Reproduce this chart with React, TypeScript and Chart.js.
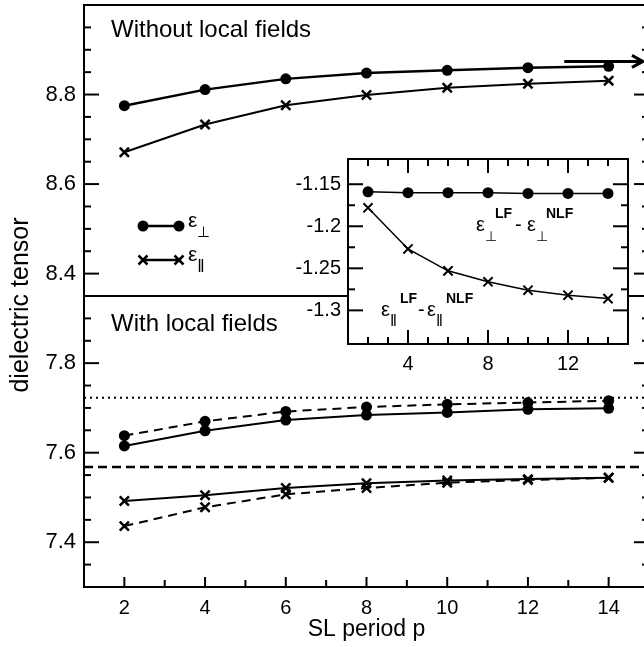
import React, { useEffect, useRef } from 'react';
import { Chart, registerables } from 'chart.js';
Chart.register(...registerables);

// ---------- data ----------
const periods = [2, 4, 6, 8, 10, 12, 14];
// without local fields (top panel)
const perpNLF = [8.775, 8.811, 8.835, 8.848, 8.854, 8.860, 8.863];
const parNLF = [8.671, 8.733, 8.776, 8.799, 8.815, 8.824, 8.831];
// with local fields (bottom panel), solid and dashed curves
const perpLF = [7.615, 7.649, 7.673, 7.684, 7.690, 7.697, 7.699];
const perpLFdashed = [7.638, 7.670, 7.692, 7.702, 7.708, 7.712, 7.716];
const parLF = [7.492, 7.505, 7.521, 7.532, 7.538, 7.541, 7.544];
const parLFdashed = [7.436, 7.478, 7.507, 7.521, 7.533, 7.539, 7.544];
// horizontal reference levels
const dottedLevel = 7.723;
const dashedLevel = 7.568;
// arrow in top panel
const arrowLevel = 8.874;
const arrowFrom = 12.9;
const arrowTo = 14.85;
// inset: LF - NLF
const perpDiff = [-1.159, -1.160, -1.160, -1.160, -1.161, -1.161, -1.161];
const parDiff = [-1.178, -1.227, -1.253, -1.266, -1.276, -1.282, -1.286];

// tick labels
const xTickLabels = [2, 4, 6, 8, 10, 12, 14];
const topTickLabels = [8.4, 8.6, 8.8];
const bottomTickLabels = [7.4, 7.6, 7.8];
const insetYTickLabels = [-1.15, -1.2, -1.25, -1.3];
const insetXTickLabels = [4, 8, 12];

const FONT = '"Liberation Sans", Arial, Helvetica, sans-serif';
const near = (a: number, b: number) => Math.abs(a - b) < 1e-6;
const inList = (v: number, list: number[]) => list.some((m) => near(m, v));
const fmt = (v: number) => String(Number(v.toFixed(3)));

// ε with subscript (⊥ or ‖) and optional bold superscript
function drawEps(ctx: CanvasRenderingContext2D, x: number, base: number, sub: string, sup: string | null, size: number) {
  ctx.font = `${size}px ${FONT}`;
  ctx.textAlign = 'left';
  ctx.textBaseline = 'alphabetic';
  ctx.fillText('ε', x, base);
  const w = ctx.measureText('ε').width;
  if (sub === '⊥') {
    ctx.font = `${Math.round(size * 0.72)}px ${FONT}`;
    ctx.fillText(sub, x + w, base + size * 0.48);
  } else {
    ctx.font = `${Math.round(size * 0.85)}px ${FONT}`;
    ctx.fillText(sub, x + w, base + size * 0.5);
  }
  if (sup) {
    ctx.font = `bold ${Math.round(size * 0.68)}px ${FONT}`;
    ctx.fillText(sup, x + 19, base - 13);
  }
}

function line(ctx: CanvasRenderingContext2D, x1: number, y1: number, x2: number, y2: number) {
  ctx.beginPath();
  ctx.moveTo(x1, y1);
  ctx.lineTo(x2, y2);
  ctx.stroke();
}

const mainPlugin = {
  id: 'mainDecor',
  afterDraw(chart: any) {
    const { ctx, chartArea: ca, scales } = chart;
    ctx.save();
    ctx.strokeStyle = '#000';
    ctx.fillStyle = '#000';
    ctx.lineWidth = 2;
    ctx.strokeRect(ca.left, ca.top, ca.right - ca.left, ca.bottom - ca.top);
    const div = scales.yTop.bottom;
    line(ctx, ca.left, div, ca.right, div);
    // y ticks (left and right)
    const ySpecs: [string, number[]][] = [['yTop', topTickLabels], ['yBot', bottomTickLabels]];
    for (const [id, majors] of ySpecs) {
      const s = scales[id];
      for (const t of s.ticks) {
        if (near(t.value, s.min) || near(t.value, s.max)) continue;
        const y = s.getPixelForValue(t.value);
        const len = inList(t.value, majors) ? 15 : 7;
        line(ctx, ca.left, y, ca.left + len, y);
        line(ctx, ca.right, y, ca.right - len, y);
      }
    }
    const sx = scales.x;
    for (const t of sx.ticks) {
      if (near(t.value, sx.min) || near(t.value, sx.max)) continue;
      const x = sx.getPixelForValue(t.value);
      const len = inList(t.value, xTickLabels) ? 10 : 7;
      line(ctx, x, ca.bottom, x, ca.bottom - len);
    }
    // arrow head
    const ax = sx.getPixelForValue(arrowTo);
    const ay = scales.yTop.getPixelForValue(arrowLevel);
    ctx.lineWidth = 3;
    ctx.beginPath();
    ctx.moveTo(ax - 11, ay - 6);
    ctx.lineTo(ax, ay);
    ctx.lineTo(ax - 11, ay + 6);
    ctx.stroke();
    // panel titles
    ctx.font = `24px ${FONT}`;
    ctx.textAlign = 'left';
    ctx.textBaseline = 'alphabetic';
    ctx.fillText('Without local fields', ca.left + 27, ca.top + 32);
    ctx.fillText('With local fields', ca.left + 27, div + 35);
    // y title
    ctx.save();
    ctx.translate(21, (ca.top + ca.bottom) / 2 + 9);
    ctx.rotate(-Math.PI / 2);
    ctx.textAlign = 'center';
    ctx.textBaseline = 'middle';
    ctx.font = `25px ${FONT}`;
    ctx.fillText('dielectric tensor', 0, 0);
    ctx.restore();
    // legend
    const lx1 = ca.left + 59, lx2 = ca.left + 95;
    const ly1 = ca.top + 221, ly2 = ca.top + 255;
    ctx.lineWidth = 2.5;
    line(ctx, lx1, ly1, lx2, ly1);
    for (const px of [lx1, lx2]) {
      ctx.beginPath();
      ctx.arc(px, ly1, 5.5, 0, Math.PI * 2);
      ctx.fill();
    }
    line(ctx, lx1, ly2, lx2, ly2);
    for (const px of [lx1, lx2]) {
      line(ctx, px - 4.5, ly2 - 4.5, px + 4.5, ly2 + 4.5);
      line(ctx, px - 4.5, ly2 + 4.5, px + 4.5, ly2 - 4.5);
    }
    drawEps(ctx, lx2 + 9, ly1 + 1, '⊥', null, 21);
    drawEps(ctx, lx2 + 9, ly2 + 1, '‖', null, 21);
    ctx.restore();
  },
};

const insetPlugin = {
  id: 'insetDecor',
  beforeDraw(chart: any) {
    const { ctx, chartArea: ca } = chart;
    ctx.save();
    ctx.fillStyle = '#fff';
    ctx.fillRect(ca.left, ca.top, ca.right - ca.left, ca.bottom - ca.top);
    ctx.restore();
  },
  afterDraw(chart: any) {
    const { ctx, chartArea: ca, scales } = chart;
    ctx.save();
    ctx.strokeStyle = '#000';
    ctx.fillStyle = '#000';
    ctx.lineWidth = 2;
    ctx.strokeRect(ca.left, ca.top, ca.right - ca.left, ca.bottom - ca.top);
    const sy = scales.y;
    for (const t of sy.ticks) {
      if (near(t.value, sy.min) || near(t.value, sy.max)) continue;
      const y = sy.getPixelForValue(t.value);
      const len = inList(t.value, insetYTickLabels) ? 15 : 7;
      line(ctx, ca.left, y, ca.left + len, y);
      line(ctx, ca.right, y, ca.right - len, y);
    }
    const sx = scales.x;
    for (const t of sx.ticks) {
      if (near(t.value, sx.min) || near(t.value, sx.max)) continue;
      const x = sx.getPixelForValue(t.value);
      const len = inList(t.value, insetXTickLabels) ? 14 : 7;
      line(ctx, x, ca.bottom, x, ca.bottom - len);
      line(ctx, x, ca.top, x, ca.top + len);
    }
    // annotations
    const ex1 = ca.left + 128, eb1 = ca.top + 72;
    drawEps(ctx, ex1, eb1, '⊥', 'LF', 20);
    ctx.font = `20px ${FONT}`;
    ctx.fillText('-', ex1 + 39, eb1);
    drawEps(ctx, ex1 + 51, eb1, '⊥', 'NLF', 20);
    const ex2 = ca.left + 33, eb2 = ca.top + 157;
    drawEps(ctx, ex2, eb2, '‖', 'LF', 20);
    ctx.font = `20px ${FONT}`;
    ctx.fillText('-', ex2 + 37, eb2);
    drawEps(ctx, ex2 + 46, eb2, '‖', 'NLF', 20);
    ctx.restore();
  },
};

const pts = (ys: number[]) => periods.map((x, i) => ({ x, y: ys[i] }));
const noPadY = (w: number) => (s: any) => { s.width = w; s.paddingTop = 0; s.paddingBottom = 0; };
const noPadX = (h: number) => (s: any) => { s.height = h; s.paddingLeft = 0; s.paddingRight = 0; };

export default function App() {
  const mainRef = useRef<HTMLCanvasElement>(null);
  const insetRef = useRef<HTMLCanvasElement>(null);

  useEffect(() => {
    const circle = (ys: number[], axis: string, width: number, dash: number[] = []) => ({
      data: pts(ys), yAxisID: axis, borderColor: '#000', backgroundColor: '#000', borderWidth: width,
      borderDash: dash, pointStyle: 'circle', pointRadius: 5.5, pointBorderWidth: 0,
      pointBackgroundColor: '#000', tension: 0,
    });
    const cross = (ys: number[], axis: string, width: number, dash: number[] = []) => ({
      data: pts(ys), yAxisID: axis, borderColor: '#000', backgroundColor: '#000', borderWidth: width,
      borderDash: dash, pointStyle: 'crossRot', pointRadius: 6.5, pointBorderWidth: 2.5,
      pointBorderColor: '#000', tension: 0,
    });
    const hline = (level: number, dash: number[], w: number) => ({
      data: [{ x: 1, y: level }, { x: 15, y: level }], yAxisID: 'yBot', borderColor: '#000',
      borderWidth: w, borderDash: dash, pointRadius: 0,
    });
    const yScale = (min: number, max: number, labels: number[]) => ({
      type: 'linear', position: 'left', stack: 'panels', stackWeight: 1, min, max,
      grid: { display: false, drawTicks: false }, border: { display: false },
      ticks: {
        stepSize: 0.05, autoSkip: false, padding: 8, color: '#000', font: { family: FONT, size: 22 },
        callback: (v: number) => (inList(v, labels) ? fmt(v) : ''),
      },
      afterFit: noPadY(84),
    });

    const main = new Chart(mainRef.current!, {
      type: 'line',
      data: {
        datasets: [
          hline(dottedLevel, [2, 4], 2),
          hline(dashedLevel, [9, 5], 2.5),
          circle(perpNLF, 'yTop', 2.5),
          cross(parNLF, 'yTop', 2),
          circle(perpLF, 'yBot', 2),
          circle(perpLFdashed, 'yBot', 2, [9, 6]),
          cross(parLF, 'yBot', 2),
          cross(parLFdashed, 'yBot', 2, [9, 6]),
          {
            data: [{ x: arrowFrom, y: arrowLevel }, { x: arrowTo, y: arrowLevel }], yAxisID: 'yTop',
            borderColor: '#000', borderWidth: 3, pointRadius: 0,
          },
        ] as any,
      },
      options: {
        animation: false, responsive: false, devicePixelRatio: 1,
        layout: { autoPadding: false, padding: { top: 5, right: 11, left: 0, bottom: 0 } },
        plugins: { legend: { display: false }, tooltip: { enabled: false } },
        scales: {
          x: {
            type: 'linear', min: 1, max: 15,
            grid: { display: false, drawTicks: false }, border: { display: false },
            ticks: {
              stepSize: 1, autoSkip: false, maxRotation: 0, padding: 9, color: '#000',
              font: { family: FONT, size: 20 },
              callback: (v: number) => (inList(v, xTickLabels) ? fmt(v) : ''),
            },
            title: { display: true, text: 'SL period p', color: '#000', font: { family: FONT, size: 23 }, padding: { top: 0, bottom: 4 } },
            afterFit: noPadX(60),
          },
          yBot: yScale(7.3, 7.95, bottomTickLabels),
          yTop: yScale(8.35, 9.0, topTickLabels),
        } as any,
      },
      plugins: [mainPlugin],
    });

    const inset = new Chart(insetRef.current!, {
      type: 'line',
      data: {
        datasets: [
          {
            data: pts(perpDiff), borderColor: '#000', borderWidth: 1.5, pointStyle: 'circle', pointRadius: 5.5,
            pointBorderWidth: 0, pointBackgroundColor: '#000',
          },
          {
            data: pts(parDiff), borderColor: '#000', borderWidth: 1.5, pointStyle: 'crossRot', pointRadius: 6.5,
            pointBorderWidth: 2, pointBorderColor: '#000',
          },
        ] as any,
      },
      options: {
        animation: false, responsive: false, devicePixelRatio: 1,
        layout: { autoPadding: false, padding: { top: 9, right: 12, left: 0, bottom: 0 } },
        plugins: { legend: { display: false }, tooltip: { enabled: false } },
        scales: {
          x: {
            type: 'linear', min: 1, max: 15,
            grid: { display: false, drawTicks: false }, border: { display: false },
            ticks: {
              stepSize: 1, autoSkip: false, maxRotation: 0, padding: 8, color: '#000',
              font: { family: FONT, size: 20 },
              callback: (v: number) => (inList(v, insetXTickLabels) ? fmt(v) : ''),
            },
            afterFit: noPadX(36),
          },
          y: {
            type: 'linear', min: -1.34, max: -1.12,
            grid: { display: false, drawTicks: false }, border: { display: false },
            ticks: {
              stepSize: 0.025, autoSkip: false, padding: 7, color: '#000',
              font: { family: FONT, size: 20 },
              callback: (v: number) => (inList(v, insetYTickLabels) ? fmt(v) : ''),
            },
            afterFit: noPadY(58),
          },
        } as any,
      },
      plugins: [insetPlugin],
    });

    return () => { main.destroy(); inset.destroy(); };
  }, []);

  return (
    <div style={{ position: 'fixed', left: 0, top: 0, width: 644, height: 647, overflow: 'hidden', background: '#fff' }}>
      <canvas ref={mainRef} width={660} height={647} style={{ position: 'absolute', left: 0, top: 0, width: 660, height: 647 }} />
      <canvas ref={insetRef} width={350} height={230} style={{ position: 'absolute', left: 290, top: 150, width: 350, height: 230 }} />
    </div>
  );
}
